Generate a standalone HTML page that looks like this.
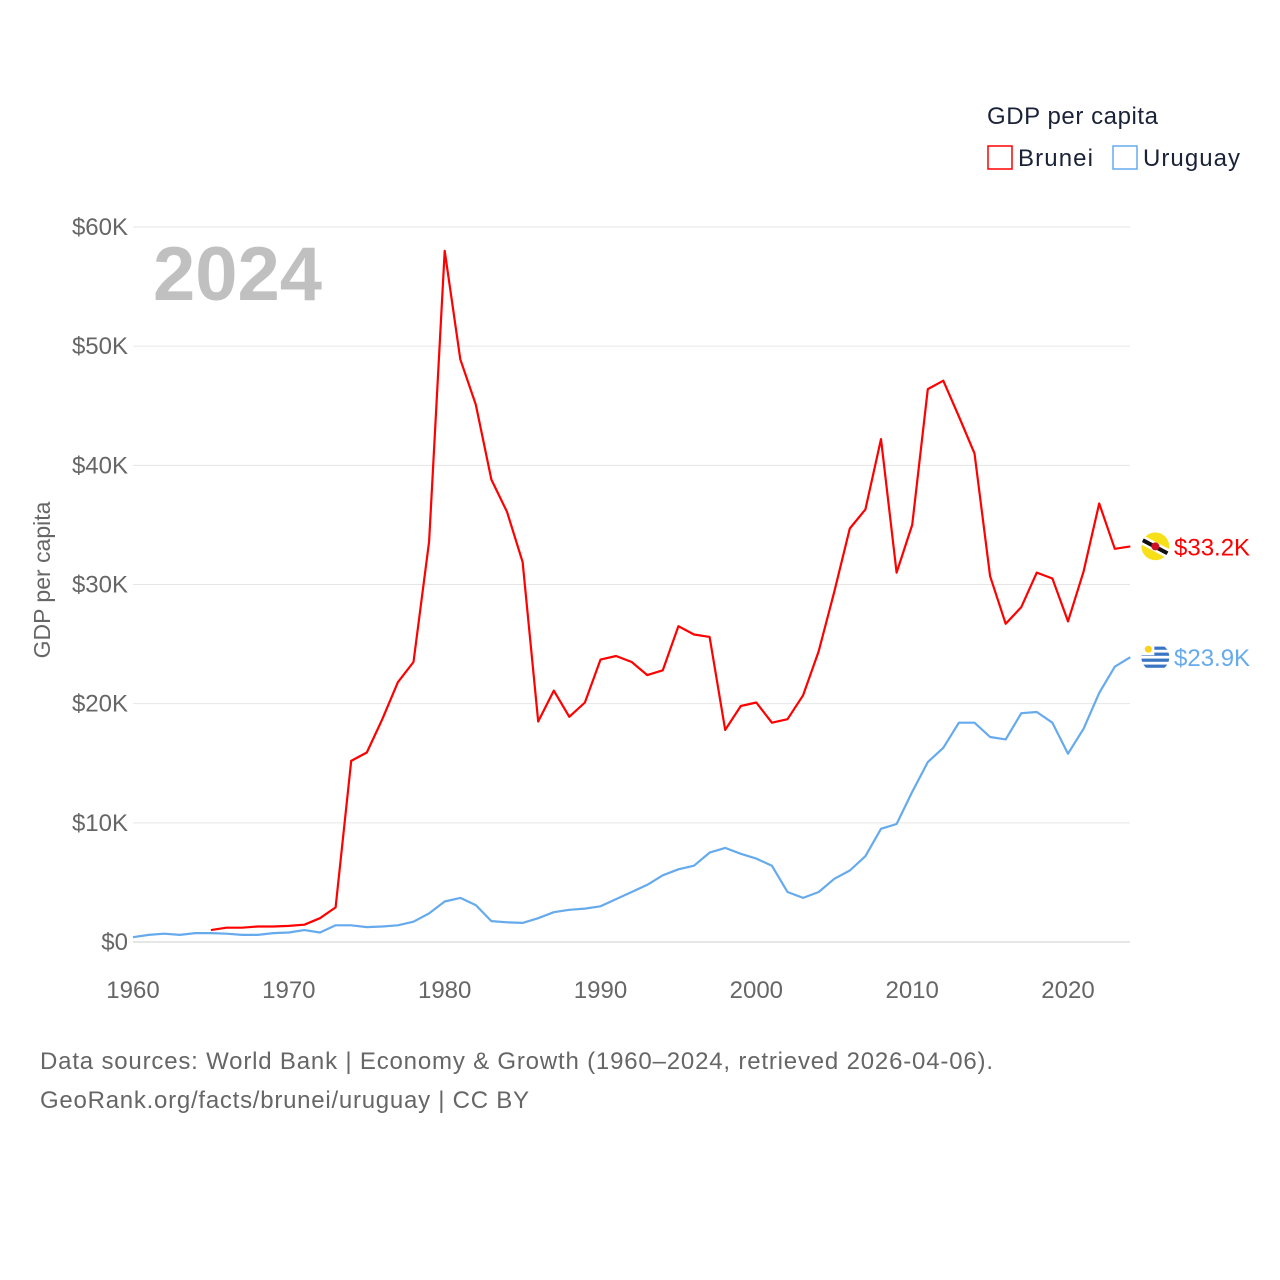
<!DOCTYPE html>
<html><head><meta charset="utf-8"><style>
body{margin:0;background:#fff;}
svg{display:block;font-family:"Liberation Sans",sans-serif;}
</style></head><body>
<svg id="chart" width="1280" height="1280" xmlns="http://www.w3.org/2000/svg">
<defs><clipPath id="uyclip"><circle id="uyc" cx="0" cy="0" r="14"/></clipPath><clipPath id="bnclip"><circle id="bnc" cx="0" cy="0" r="14"/></clipPath></defs>
<rect width="1280" height="1280" fill="#fff"/>
<g id="grid"></g>
<g id="yticks"></g>
<g id="xticks"></g>
<text x="153" y="300" font-size="76" font-weight="bold" fill="#c0c0c0">2024</text>
<text transform="translate(50,580) rotate(-90)" text-anchor="middle" font-size="23" fill="#666">GDP per capita</text>
<g id="series"></g>
<g>
<text x="987" y="124" font-size="24" fill="#1a2238" textLength="171">GDP per capita</text>
<rect x="988" y="146" width="24" height="23" fill="none" stroke="#ff0000" stroke-width="1.5"/>
<text x="1018" y="166" font-size="24" fill="#1a2238" textLength="75">Brunei</text>
<rect x="1113" y="146" width="24" height="23" fill="none" stroke="#66aaee" stroke-width="1.5"/>
<text x="1143" y="166" font-size="24" fill="#1a2238" textLength="97">Uruguay</text>
</g>
<text x="40" y="1069" font-size="24" fill="#666" textLength="953">Data sources: World Bank | Economy &amp; Growth (1960–2024, retrieved 2026-04-06).</text>
<text x="40" y="1108" font-size="24" fill="#666" textLength="489">GeoRank.org/facts/brunei/uruguay | CC BY</text>
</svg>
<script>
const bruneiYears=[1965,1966,1967,1968,1969,1970,1971,1972,1973,1974,1975,1976,1977,1978,1979,1980,1981,1982,1983,1984,1985,1986,1987,1988,1989,1990,1991,1992,1993,1994,1995,1996,1997,1998,1999,2000,2001,2002,2003,2004,2005,2006,2007,2008,2009,2010,2011,2012,2013,2014,2015,2016,2017,2018,2019,2020,2021,2022,2023,2024];
const bruneiValues=[1.0,1.2,1.2,1.3,1.3,1.35,1.45,2.0,2.9,15.2,15.9,18.7,21.8,23.5,33.6,58.0,48.9,45.1,38.8,36.1,31.9,18.5,21.1,18.9,20.1,23.7,24.0,23.5,22.4,22.8,26.5,25.8,25.6,17.8,19.8,20.1,18.4,18.7,20.7,24.4,29.4,34.7,36.3,42.2,31.0,35.0,46.4,47.1,44.1,41.0,30.7,26.7,28.1,31.0,30.5,26.9,31.1,36.8,33.0,33.2];
const uruguayYears=[];for(let y=1960;y<=2024;y++)uruguayYears.push(y);
const uruguayValues=[0.4,0.6,0.7,0.6,0.75,0.75,0.7,0.6,0.6,0.75,0.8,1.0,0.8,1.4,1.4,1.25,1.3,1.4,1.7,2.4,3.4,3.7,3.1,1.75,1.65,1.6,2.0,2.5,2.7,2.8,3.0,3.6,4.2,4.8,5.6,6.1,6.4,7.5,7.9,7.4,7.0,6.4,4.2,3.7,4.2,5.3,6.0,7.2,9.5,9.9,12.6,15.1,16.3,18.4,18.4,17.2,17.0,19.2,19.3,18.4,15.8,17.9,20.9,23.1,23.9];
const yTicks=[0,10,20,30,40,50,60];
const yTickLabels=["$0","$10K","$20K","$30K","$40K","$50K","$60K"];
const xTicks=[1960,1970,1980,1990,2000,2010,2020];
const endLabels=["$33.2K","$23.9K"];
const NS="http://www.w3.org/2000/svg";
const X=y=>133+(y-1960)*(935/60);
const Y=v=>942-v*(715/60);
function mk(t,a,p){const e=document.createElementNS(NS,t);for(const k in a)e.setAttribute(k,a[k]);p.appendChild(e);return e;}
const grid=document.getElementById('grid'),yt=document.getElementById('yticks'),xt=document.getElementById('xticks'),ser=document.getElementById('series');
yTicks.forEach((v,i)=>{
 const l=mk('line',{x1:133,x2:1130,y1:Y(v),y2:Y(v),stroke:i===0?'#ccc':'#e6e6e6','stroke-width':1},grid);
 
 
 const t=mk('text',{x:128,y:Y(v)+8,'text-anchor':'end','font-size':24,fill:'#666'},yt);
 t.textContent=yTickLabels[i];
 
 
});
xTicks.forEach(v=>{
 const t=mk('text',{x:X(v),y:998,'text-anchor':'middle','font-size':24,fill:'#666'},xt);
 t.textContent=v;
 
 
});
function line(xs,vs,c,name){
 const d=xs.map((x,i)=>(i?'L':'M')+X(x).toFixed(1)+','+Y(vs[i]).toFixed(1)).join('');
 const p=mk('path',{d:d,fill:'none',stroke:c,'stroke-width':2.2,'stroke-linejoin':'round'},ser);
 
 
}
line(uruguayYears,uruguayValues,'#66aaee','uruguay-line');
line(bruneiYears,bruneiValues,'#ff0000','brunei-line');
const bx=X(2024)+25,by=Y(bruneiValues[bruneiValues.length-1]);
document.getElementById('bnc').setAttribute('cx',bx);
document.getElementById('bnc').setAttribute('cy',by);
const f1=mk('g',{'clip-path':'url(#bnclip)'},ser);


mk('circle',{cx:bx,cy:by,r:14,fill:'#f7e017'},f1);
mk('line',{x1:bx-16,y1:by-8,x2:bx+16,y2:by+9,stroke:'#fff','stroke-width':9},f1);
mk('line',{x1:bx-16,y1:by-8,x2:bx+16,y2:by+9,stroke:'#111','stroke-width':4},f1);
mk('circle',{cx:bx,cy:by,r:4,fill:'#cf1126'},f1);
const t1=mk('text',{x:1174,y:by+9,'font-size':24,fill:'#ff0000'},ser);
t1.textContent=endLabels[0];


const ux=X(2024)+25,uy=Y(uruguayValues[uruguayValues.length-1]);
document.getElementById('uyc').setAttribute('cx',ux);
document.getElementById('uyc').setAttribute('cy',uy);
const f2=mk('g',{'clip-path':'url(#uyclip)'},ser);


mk('circle',{cx:ux,cy:uy,r:14,fill:'#fff'},f2);
[-9,-3,3,9].forEach(o=>mk('rect',{x:ux-14,y:uy+o-1.6,width:28,height:3.2,fill:'#3a75c4'},f2));
mk('rect',{x:ux-14,y:uy-14,width:13,height:12,fill:'#fff'},f2);
mk('circle',{cx:ux-7,cy:uy-8,r:3.5,fill:'#fcd116'},f2);
const t2=mk('text',{x:1174,y:uy+9,'font-size':24,fill:'#66aaee'},ser);
t2.textContent=endLabels[1];


</script>
</body></html>
